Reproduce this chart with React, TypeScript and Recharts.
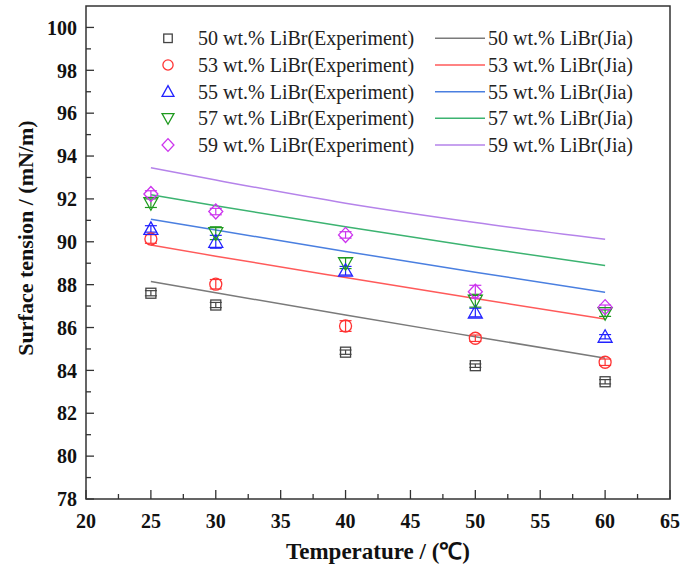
import { ComposedChart, Scatter, Line, XAxis, YAxis, ReferenceArea, ErrorBar } from "recharts"

const temps = [25, 30, 40, 50, 60]
const concentrations = ["50", "53", "55", "57", "59"]

// experiment points (mN/m)
const exp50 = [87.6, 87.05, 84.85, 84.22, 83.47]
const exp53 = [90.13, 88.02, 86.07, 85.5, 84.38]
const exp55 = [90.6, 90.0, 88.65, 86.7, 85.57]
const exp57 = [91.8, 90.4, 89.0, 87.25, 86.67]
const exp59 = [92.23, 91.41, 90.32, 87.67, 86.95]

// error bars
const err50 = [0.12, 0.12, 0.1, 0.08, 0.1]
const err53 = [0.2, 0.22, 0.25, 0.15, 0.15]
const err55 = [0.15, 0.3, 0.2, 0.2, 0.1]
const err57 = [0.2, 0.3, 0.25, 0.3, 0.15]
const err59 = [0.15, 0.15, 0.15, 0.3, 0.1]

// Jia correlation
const jia50 = [88.15, 87.62, 86.58, 85.57, 84.57]
const jia53 = [89.85, 89.33, 88.33, 87.35, 86.4]
const jia55 = [91.05, 90.55, 89.55, 88.58, 87.64]
const jia57 = [92.19, 91.68, 90.7, 89.77, 88.89]
const jia59 = [93.45, 92.88, 91.8, 90.9, 90.12]

const xTicks = [20, 22.5, 25, 27.5, 30, 32.5, 35, 37.5, 40, 42.5, 45, 47.5, 50, 52.5, 55, 57.5, 60, 62.5, 65]
const yTicks = [78, 79, 80, 81, 82, 83, 84, 85, 86, 87, 88, 89, 90, 91, 92, 93, 94, 95, 96, 97, 98, 99, 100]

const FONT = "'Liberation Serif', 'Times New Roman', serif"
const AXIS = "#333"

const series = [
  { exp: exp50, err: err50, jia: jia50, kind: "square", mark: "#444", line: "#7a7a7a" },
  { exp: exp53, err: err53, jia: jia53, kind: "circle", mark: "#ff3333", line: "#ff5a5a" },
  { exp: exp55, err: err55, jia: jia55, kind: "up", mark: "#2222ff", line: "#4a7fe0" },
  { exp: exp57, err: err57, jia: jia57, kind: "down", mark: "#1f9a1f", line: "#3cb371" },
  { exp: exp59, err: err59, jia: jia59, kind: "diamond", mark: "#cc33ee", line: "#b583ea" },
]

function Marker({ cx, cy, kind, color, k = 1 }: any) {
  if (cx == null || cy == null) return null
  const sw = 1.3
  if (kind === "square")
    return <rect x={cx - 5 * k} y={cy - 5 * k} width={10 * k} height={10 * k} fill="none" stroke={color} strokeWidth={sw} />
  if (kind === "circle") return <circle cx={cx} cy={cy} r={6 * k} fill="none" stroke={color} strokeWidth={sw} />
  if (kind === "up")
    return (
      <polygon
        points={`${cx},${cy - 7 * k} ${cx + 7 * k},${cy + 5.5 * k} ${cx - 7 * k},${cy + 5.5 * k}`}
        fill="none"
        stroke={color}
        strokeWidth={sw}
      />
    )
  if (kind === "down")
    return (
      <polygon
        points={`${cx},${cy + 7 * k} ${cx + 7 * k},${cy - 5.5 * k} ${cx - 7 * k},${cy - 5.5 * k}`}
        fill="none"
        stroke={color}
        strokeWidth={sw}
      />
    )
  return (
    <polygon
      points={`${cx},${cy - 7.5 * k} ${cx + 7 * k},${cy} ${cx},${cy + 7.5 * k} ${cx - 7 * k},${cy}`}
      fill="none"
      stroke={color}
      strokeWidth={sw}
    />
  )
}

const YTick = (props: any) => {
  const { x, y, payload } = props
  const v = payload.value
  const major = v % 2 === 0
  return (
    <g>
      <line x1={x} x2={x + (major ? 8 : 5)} y1={y} y2={y} stroke={AXIS} strokeWidth={1.3} />
      {major && (
        <text x={x - 9} y={y} dy="0.36em" textAnchor="end" fontFamily={FONT} fontWeight="bold" fontSize={20} fill="#111">
          {v}
        </text>
      )}
    </g>
  )
}

const XTick = (props: any) => {
  const { x, y, payload } = props
  const v = payload.value
  const major = v % 5 === 0
  return (
    <g>
      <line x1={x} x2={x} y1={y} y2={y - (major ? 9 : 5)} stroke={AXIS} strokeWidth={1.3} />
      {major && (
        <text x={x} y={y + 29} textAnchor="middle" fontFamily={FONT} fontWeight="bold" fontSize={20} fill="#111">
          {v}
        </text>
      )}
    </g>
  )
}

export default function App() {
  return (
    <div style={{ position: "absolute", left: 0, top: 0, width: 683, height: 580, background: "#fff" }}>
      <ComposedChart width={683} height={580} margin={{ top: 6, right: 13, bottom: 0, left: 0 }}>
        <XAxis
          type="number"
          dataKey="x"
          domain={[20, 65]}
          ticks={xTicks}
          interval={0}
          height={81}
          tickSize={0}
          tickMargin={0}
          tickLine={false}
          axisLine={false}
          tick={<XTick />}
          allowDataOverflow
        />
        <YAxis
          type="number"
          dataKey="y"
          domain={[78, 101]}
          ticks={yTicks}
          interval={0}
          width={86}
          tickSize={0}
          tickMargin={0}
          tickLine={false}
          axisLine={false}
          tick={<YTick />}
          allowDataOverflow
        />
        <ReferenceArea x1={20} x2={65} y1={78} y2={101} fill="none" stroke={AXIS} strokeWidth={1.5} />
        {series.map((s, i) => (
          <Line
            key={"jia" + i}
            data={temps.map((t, j) => ({ x: t, y: s.jia[j] }))}
            dataKey="y"
            type="monotone"
            stroke={s.line}
            strokeWidth={1.5}
            dot={false}
            isAnimationActive={false}
          />
        ))}
        {series.map((s, i) => (
          <Scatter
            key={"exp" + i}
            data={temps.map((t, j) => ({ x: t, y: s.exp[j], err: s.err[j] }))}
            dataKey="y"
            shape={(p: any) => <Marker cx={p.cx} cy={p.cy} kind={s.kind} color={s.mark} />}
            isAnimationActive={false}
          >
            <ErrorBar dataKey="err" direction="y" width={6} stroke={s.mark} strokeWidth={1.2} isAnimationActive={false} />
          </Scatter>
        ))}
      </ComposedChart>
      <svg width={683} height={580} style={{ position: "absolute", left: 0, top: 0, pointerEvents: "none" }}>
        {series.map((s, i) => {
          const cy = 38.3 + i * 26.67
          return (
            <g key={i}>
              <Marker cx={168} cy={cy} kind={s.kind} color={s.mark} k={0.85} />
              <text x={198} y={cy + 7} fontFamily={FONT} fontSize={20} fill="#222">
                {concentrations[i]} wt.% LiBr(Experiment)
              </text>
              <line x1={435} x2={485} y1={cy} y2={cy} stroke={s.line} strokeWidth={1.5} />
              <text x={488} y={cy + 7} fontFamily={FONT} fontSize={20} fill="#222">
                {concentrations[i]} wt.% LiBr(Jia)
              </text>
            </g>
          )
        })}
        <text
          x={25}
          y={238}
          transform="rotate(-90 25 238)"
          dy="0.35em"
          textAnchor="middle"
          fontFamily={FONT}
          fontWeight="bold"
          fontSize={22}
          fill="#111"
        >
          Surface tension / (mN/m)
        </text>
        <text x={378} y={559} textAnchor="middle" fontFamily={FONT} fontWeight="bold" fontSize={23} fill="#111">
          Temperature / (℃)
        </text>
      </svg>
    </div>
  )
}
